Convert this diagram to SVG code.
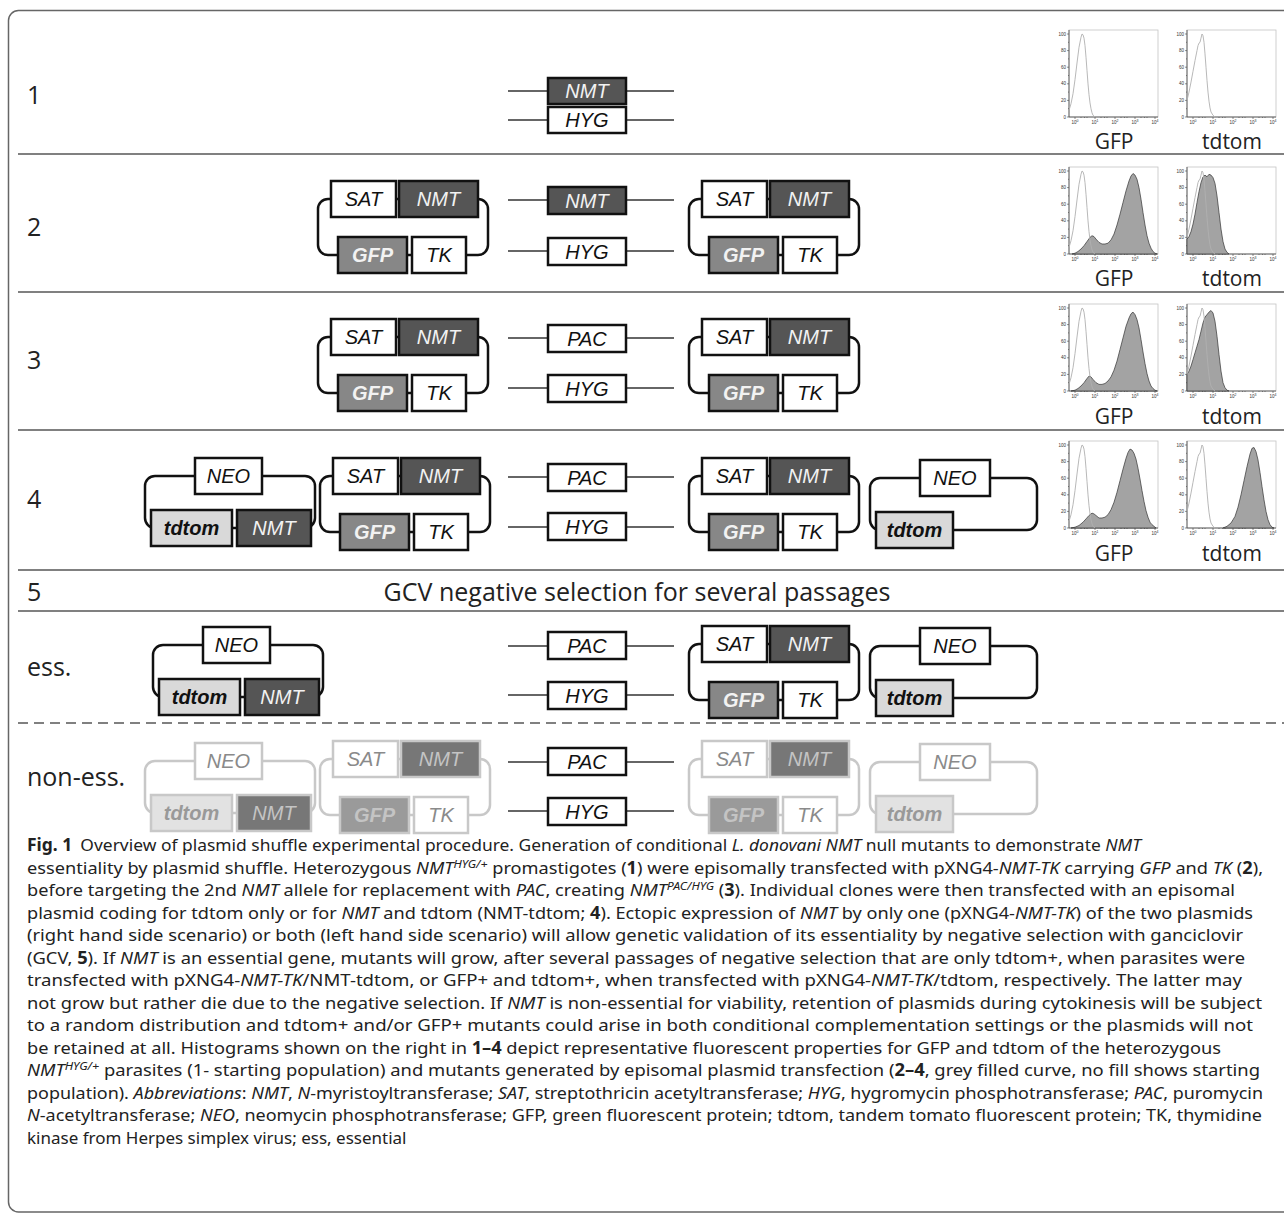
<svg xmlns="http://www.w3.org/2000/svg" width="1284" height="1219" viewBox="0 0 1284 1219">
<style>
.frame{fill:none;stroke:#666;stroke-width:1.5}
.sep{stroke:#808080;stroke-width:2}
.dash{stroke:#808080;stroke-width:2;stroke-dasharray:10 6}
.box{stroke:#111;stroke-width:2.5}
.w{fill:#fff}.dk{fill:#555}.gf{fill:#878787}.td{fill:#d9d9d9}
.loop{fill:none;stroke:#111;stroke-width:2.5}
.chrom{stroke:#333;stroke-width:1.5}
.lbl{font-family:'Liberation Sans',Arial,sans-serif;font-style:italic;font-size:20px;text-anchor:middle;fill:#111}
.lw{fill:#f2f2f2}.b{font-weight:bold}
.f .box{stroke:#c8c8c8}.f .loop{stroke:#c8c8c8}
.f .dk{fill:#777}.f .gf{fill:#9a9a9a}.f .td{fill:#e2e2e2}
.f .lbl{fill:#8a8a8a}.f .lw{fill:#c4c4c4}.f .tdt{fill:#999}
.row{font-family:'Open Sans','Liberation Sans',sans-serif;font-size:25px;fill:#222}
.hl{font-family:'Open Sans','Liberation Sans',sans-serif;font-size:21px;fill:#222;text-anchor:middle}
.pf{fill:#fff;stroke:#c4c4c4;stroke-width:0.8}
.ax{fill:none;stroke:#444;stroke-width:0.8}
.fc{fill:#a3a3a3;stroke:#333;stroke-width:0.7}
.uc{fill:none;stroke:#b0b0b0;stroke-width:0.9}
.yt{font-family:'Liberation Sans',sans-serif;font-size:4.5px;text-anchor:end;fill:#333}
.xt{font-family:'Liberation Sans',sans-serif;font-size:4.5px;text-anchor:middle;fill:#333}
.cap{font-family:'Noto Sans','Liberation Sans',sans-serif;font-size:17px;fill:#222}
.i{font-style:italic}.bd{font-weight:bold}
</style>
<defs>
<path id="tk" d="M-8,0H-6M-8,-16.6H-6M-8,-33.2H-6M-8,-49.8H-6M-8,-66.4H-6M-8,-83H-6M-7,-8.3H-6M-7,-24.9H-6M-7,-41.5H-6M-7,-58.1H-6M-7,-74.7H-6M0,0V2M20,0V2M40,0V2M60,0V2M80,0V2M6,0V1M9.5,0V1M12,0V1M26,0V1M29.5,0V1M32,0V1M46,0V1M49.5,0V1M52,0V1M66,0V1M69.5,0V1M72,0V1" stroke="#444" stroke-width="0.6" fill="none"/>
</defs>
<path class="frame" d="M1292,10.5H18.5A10,10 0 0 0 8.5,20.5V1202A10,10 0 0 0 18.5,1212H1292"/>
<g id="separators">
<line class="sep" x1="18" y1="154" x2="1284" y2="154"/>
<line class="sep" x1="18" y1="292" x2="1284" y2="292"/>
<line class="sep" x1="18" y1="430" x2="1284" y2="430"/>
<line class="sep" x1="18" y1="570" x2="1284" y2="570"/>
<line class="sep" x1="18" y1="611" x2="1284" y2="611"/>
<line class="dash" x1="18" y1="723" x2="1284" y2="723"/>
</g>
<g id="row-labels">
<text class="row" x="27" y="104">1</text>
<text class="row" x="27" y="236">2</text>
<text class="row" x="27" y="369">3</text>
<text class="row" x="27" y="508">4</text>
<text class="row" x="27" y="601">5</text>
<text class="row" x="637" y="601" text-anchor="middle">GCV negative selection for several passages</text>
<text class="row" x="27" y="676">ess.</text>
<text class="row" x="27" y="786">non-ess.</text>
</g>
<g id="connectors">
<line class="chrom" x1="508" y1="91" x2="674" y2="91"/>
<line class="chrom" x1="508" y1="120" x2="674" y2="120"/>
<line class="chrom" x1="508" y1="200" x2="674" y2="200"/>
<line class="chrom" x1="508" y1="251" x2="674" y2="251"/>
<line class="chrom" x1="508" y1="338" x2="674" y2="338"/>
<line class="chrom" x1="508" y1="388" x2="674" y2="388"/>
<line class="chrom" x1="508" y1="477" x2="674" y2="477"/>
<line class="chrom" x1="508" y1="527" x2="674" y2="527"/>
<line class="chrom" x1="508" y1="646" x2="674" y2="646"/>
<line class="chrom" x1="508" y1="695" x2="674" y2="695"/>
<line class="chrom" x1="508" y1="762" x2="674" y2="762"/>
<line class="chrom" x1="508" y1="811" x2="674" y2="811"/>
</g>
<!-- Row 1 -->
<g id="r1-nmt"><rect class="box dk" x="548" y="78" width="78" height="26"/><text class="lbl lw" x="587" y="98">NMT</text></g>
<g id="r1-hyg"><rect class="box w" x="548" y="107" width="78" height="26"/><text class="lbl" x="587" y="127">HYG</text></g>
<!-- Row 2 -->
<g id="r2-plasA-left" transform="translate(318,181)">
<rect class="loop" x="0" y="18" width="170" height="56" rx="10"/>
<rect class="box w" x="13" y="0" width="65" height="36"/><rect class="box dk" x="81" y="0" width="79" height="36"/>
<rect class="box gf" x="20" y="56" width="69" height="36"/><rect class="box w" x="94" y="56" width="54" height="36"/>
<text class="lbl" x="45.5" y="25">SAT</text><text class="lbl lw" x="120.5" y="25">NMT</text>
<text class="lbl lw b" x="54.5" y="81">GFP</text><text class="lbl" x="121" y="81">TK</text>
</g>
<g id="r2-nmt"><rect class="box dk" x="548" y="187" width="78" height="27"/><text class="lbl lw" x="587" y="208">NMT</text></g>
<g id="r2-hyg"><rect class="box w" x="548" y="238" width="78" height="27"/><text class="lbl" x="587" y="259">HYG</text></g>
<g id="r2-plasA-right" transform="translate(689,181)">
<rect class="loop" x="0" y="18" width="170" height="56" rx="10"/>
<rect class="box w" x="13" y="0" width="65" height="36"/><rect class="box dk" x="81" y="0" width="79" height="36"/>
<rect class="box gf" x="20" y="56" width="69" height="36"/><rect class="box w" x="94" y="56" width="54" height="36"/>
<text class="lbl" x="45.5" y="25">SAT</text><text class="lbl lw" x="120.5" y="25">NMT</text>
<text class="lbl lw b" x="54.5" y="81">GFP</text><text class="lbl" x="121" y="81">TK</text>
</g>
<!-- Row 3 -->
<g id="r3-plasA-left" transform="translate(318,319)">
<rect class="loop" x="0" y="18" width="170" height="56" rx="10"/>
<rect class="box w" x="13" y="0" width="65" height="36"/><rect class="box dk" x="81" y="0" width="79" height="36"/>
<rect class="box gf" x="20" y="56" width="69" height="36"/><rect class="box w" x="94" y="56" width="54" height="36"/>
<text class="lbl" x="45.5" y="25">SAT</text><text class="lbl lw" x="120.5" y="25">NMT</text>
<text class="lbl lw b" x="54.5" y="81">GFP</text><text class="lbl" x="121" y="81">TK</text>
</g>
<g id="r3-pac"><rect class="box w" x="548" y="325" width="78" height="27"/><text class="lbl" x="587" y="346">PAC</text></g>
<g id="r3-hyg"><rect class="box w" x="548" y="375" width="78" height="27"/><text class="lbl" x="587" y="396">HYG</text></g>
<g id="r3-plasA-right" transform="translate(689,319)">
<rect class="loop" x="0" y="18" width="170" height="56" rx="10"/>
<rect class="box w" x="13" y="0" width="65" height="36"/><rect class="box dk" x="81" y="0" width="79" height="36"/>
<rect class="box gf" x="20" y="56" width="69" height="36"/><rect class="box w" x="94" y="56" width="54" height="36"/>
<text class="lbl" x="45.5" y="25">SAT</text><text class="lbl lw" x="120.5" y="25">NMT</text>
<text class="lbl lw b" x="54.5" y="81">GFP</text><text class="lbl" x="121" y="81">TK</text>
</g>
<!-- Row 4 -->
<g id="r4-plasB-left" transform="translate(145,458)">
<rect class="loop" x="0" y="18" width="170" height="52" rx="10"/>
<rect class="box w" x="50" y="0" width="67" height="36"/>
<rect class="box td" x="6" y="52" width="81" height="36"/><rect class="box dk" x="92" y="52" width="74" height="36"/>
<text class="lbl" x="83.5" y="25">NEO</text><text class="lbl b tdt" x="46.5" y="77">tdtom</text><text class="lbl lw" x="129" y="77">NMT</text>
</g>
<g id="r4-plasA-left" transform="translate(320,458)">
<rect class="loop" x="0" y="18" width="170" height="56" rx="10"/>
<rect class="box w" x="13" y="0" width="65" height="36"/><rect class="box dk" x="81" y="0" width="79" height="36"/>
<rect class="box gf" x="20" y="56" width="69" height="36"/><rect class="box w" x="94" y="56" width="54" height="36"/>
<text class="lbl" x="45.5" y="25">SAT</text><text class="lbl lw" x="120.5" y="25">NMT</text>
<text class="lbl lw b" x="54.5" y="81">GFP</text><text class="lbl" x="121" y="81">TK</text>
</g>
<g id="r4-pac"><rect class="box w" x="548" y="464" width="78" height="27"/><text class="lbl" x="587" y="485">PAC</text></g>
<g id="r4-hyg"><rect class="box w" x="548" y="513" width="78" height="27"/><text class="lbl" x="587" y="534">HYG</text></g>
<g id="r4-plasA-right" transform="translate(689,458)">
<rect class="loop" x="0" y="18" width="170" height="56" rx="10"/>
<rect class="box w" x="13" y="0" width="65" height="36"/><rect class="box dk" x="81" y="0" width="79" height="36"/>
<rect class="box gf" x="20" y="56" width="69" height="36"/><rect class="box w" x="94" y="56" width="54" height="36"/>
<text class="lbl" x="45.5" y="25">SAT</text><text class="lbl lw" x="120.5" y="25">NMT</text>
<text class="lbl lw b" x="54.5" y="81">GFP</text><text class="lbl" x="121" y="81">TK</text>
</g>
<g id="r4-plasC-right" transform="translate(870,460)">
<rect class="loop" x="0" y="18" width="167" height="52" rx="10"/>
<rect class="box w" x="50" y="0" width="70" height="36"/>
<rect class="box td" x="6" y="52" width="77" height="36"/>
<text class="lbl" x="85" y="25">NEO</text><text class="lbl b tdt" x="44.5" y="77">tdtom</text>
</g>
<!-- ess row -->
<g id="ess-plasB" transform="translate(153,627)">
<rect class="loop" x="0" y="18" width="170" height="52" rx="10"/>
<rect class="box w" x="50" y="0" width="67" height="36"/>
<rect class="box td" x="6" y="52" width="81" height="36"/><rect class="box dk" x="92" y="52" width="74" height="36"/>
<text class="lbl" x="83.5" y="25">NEO</text><text class="lbl b tdt" x="46.5" y="77">tdtom</text><text class="lbl lw" x="129" y="77">NMT</text>
</g>
<g id="ess-pac"><rect class="box w" x="548" y="632" width="78" height="27"/><text class="lbl" x="587" y="653">PAC</text></g>
<g id="ess-hyg"><rect class="box w" x="548" y="682" width="78" height="27"/><text class="lbl" x="587" y="703">HYG</text></g>
<g id="ess-plasA" transform="translate(689,626)">
<rect class="loop" x="0" y="18" width="170" height="56" rx="10"/>
<rect class="box w" x="13" y="0" width="65" height="36"/><rect class="box dk" x="81" y="0" width="79" height="36"/>
<rect class="box gf" x="20" y="56" width="69" height="36"/><rect class="box w" x="94" y="56" width="54" height="36"/>
<text class="lbl" x="45.5" y="25">SAT</text><text class="lbl lw" x="120.5" y="25">NMT</text>
<text class="lbl lw b" x="54.5" y="81">GFP</text><text class="lbl" x="121" y="81">TK</text>
</g>
<g id="ess-plasC" transform="translate(870,628)">
<rect class="loop" x="0" y="18" width="167" height="52" rx="10"/>
<rect class="box w" x="50" y="0" width="70" height="36"/>
<rect class="box td" x="6" y="52" width="77" height="36"/>
<text class="lbl" x="85" y="25">NEO</text><text class="lbl b tdt" x="44.5" y="77">tdtom</text>
</g>
<!-- non-ess row -->
<g id="ness-plasB" class="f" transform="translate(145,743)">
<rect class="loop" x="0" y="18" width="170" height="52" rx="10"/>
<rect class="box w" x="50" y="0" width="67" height="36"/>
<rect class="box td" x="6" y="52" width="81" height="36"/><rect class="box dk" x="92" y="52" width="74" height="36"/>
<text class="lbl" x="83.5" y="25">NEO</text><text class="lbl b tdt" x="46.5" y="77">tdtom</text><text class="lbl lw" x="129" y="77">NMT</text>
</g>
<g id="ness-plasA-left" class="f" transform="translate(320,741)">
<rect class="loop" x="0" y="18" width="170" height="56" rx="10"/>
<rect class="box w" x="13" y="0" width="65" height="36"/><rect class="box dk" x="81" y="0" width="79" height="36"/>
<rect class="box gf" x="20" y="56" width="69" height="36"/><rect class="box w" x="94" y="56" width="54" height="36"/>
<text class="lbl" x="45.5" y="25">SAT</text><text class="lbl lw" x="120.5" y="25">NMT</text>
<text class="lbl lw b" x="54.5" y="81">GFP</text><text class="lbl" x="121" y="81">TK</text>
</g>
<g id="ness-pac"><rect class="box w" x="548" y="748" width="78" height="27"/><text class="lbl" x="587" y="769">PAC</text></g>
<g id="ness-hyg"><rect class="box w" x="548" y="798" width="78" height="27"/><text class="lbl" x="587" y="819">HYG</text></g>
<g id="ness-plasA-right" class="f" transform="translate(689,741)">
<rect class="loop" x="0" y="18" width="170" height="56" rx="10"/>
<rect class="box w" x="13" y="0" width="65" height="36"/><rect class="box dk" x="81" y="0" width="79" height="36"/>
<rect class="box gf" x="20" y="56" width="69" height="36"/><rect class="box w" x="94" y="56" width="54" height="36"/>
<text class="lbl" x="45.5" y="25">SAT</text><text class="lbl lw" x="120.5" y="25">NMT</text>
<text class="lbl lw b" x="54.5" y="81">GFP</text><text class="lbl" x="121" y="81">TK</text>
</g>
<g id="ness-plasC" class="f" transform="translate(870,744)">
<rect class="loop" x="0" y="18" width="167" height="52" rx="10"/>
<rect class="box w" x="50" y="0" width="70" height="36"/>
<rect class="box td" x="6" y="52" width="77" height="36"/>
<text class="lbl" x="85" y="25">NEO</text><text class="lbl b tdt" x="44.5" y="77">tdtom</text>
</g>
<!-- Histograms -->
<g id="hist-r1-gfp" transform="translate(1075,117)">
<rect class="pf" x="-6" y="-87" width="89" height="87"/><path class="ax" d="M-6,-87V0H83"/><use href="#tk"/>
<text class="yt" x="-9" y="1.5">0</text><text class="yt" x="-9" y="-15">20</text><text class="yt" x="-9" y="-31.7">40</text><text class="yt" x="-9" y="-48.3">60</text><text class="yt" x="-9" y="-65">80</text><text class="yt" x="-9" y="-81.5">100</text>
<text class="xt" x="0" y="7.2">10<tspan dy="-2" font-size="3.5">0</tspan></text><text class="xt" x="20" y="7.2">10<tspan dy="-2" font-size="3.5">1</tspan></text><text class="xt" x="40" y="7.2">10<tspan dy="-2" font-size="3.5">2</tspan></text><text class="xt" x="60" y="7.2">10<tspan dy="-2" font-size="3.5">3</tspan></text><text class="xt" x="80" y="7.2">10<tspan dy="-2" font-size="3.5">4</tspan></text>
<path class="uc" d="M-6,-6.6 L-4,-13.3 -2,-23.2 0,-37.4 2,-54 4,-69.7 6,-79.7 7,-83 8,-82.2 9,-78.9 10,-71.4 11,-59.8 12,-46.5 13,-33.2 14,-22.4 15,-14.1 16,-8.3 17,-4.2 18,-1.7 20,0"/>
</g>
<g id="hist-r1-tdtom" transform="translate(1193,117)">
<rect class="pf" x="-6" y="-87" width="89" height="87"/><path class="ax" d="M-6,-87V0H83"/><use href="#tk"/>
<text class="yt" x="-9" y="1.5">0</text><text class="yt" x="-9" y="-15">20</text><text class="yt" x="-9" y="-31.7">40</text><text class="yt" x="-9" y="-48.3">60</text><text class="yt" x="-9" y="-65">80</text><text class="yt" x="-9" y="-81.5">100</text>
<text class="xt" x="0" y="7.2">10<tspan dy="-2" font-size="3.5">0</tspan></text><text class="xt" x="20" y="7.2">10<tspan dy="-2" font-size="3.5">1</tspan></text><text class="xt" x="40" y="7.2">10<tspan dy="-2" font-size="3.5">2</tspan></text><text class="xt" x="60" y="7.2">10<tspan dy="-2" font-size="3.5">3</tspan></text><text class="xt" x="80" y="7.2">10<tspan dy="-2" font-size="3.5">4</tspan></text>
<path class="uc" d="M-6,-16.6 L-4,-24.9 -2,-34.9 0,-45.7 2,-56.4 4,-66.4 5,-71.4 6,-73.9 7,-74.7 8,-78.9 9,-83 10,-81.3 11,-74.7 12,-63.1 13,-49.8 14,-36.5 15,-24.9 16,-15.8 17,-9.1 18,-5 20,-1.7 22,0"/>
</g>
<g id="hist-r2-gfp" transform="translate(1075,254)">
<rect class="pf" x="-6" y="-87" width="89" height="87"/><path class="ax" d="M-6,-87V0H83"/><use href="#tk"/>
<text class="yt" x="-9" y="1.5">0</text><text class="yt" x="-9" y="-15">20</text><text class="yt" x="-9" y="-31.7">40</text><text class="yt" x="-9" y="-48.3">60</text><text class="yt" x="-9" y="-65">80</text><text class="yt" x="-9" y="-81.5">100</text>
<text class="xt" x="0" y="7.2">10<tspan dy="-2" font-size="3.5">0</tspan></text><text class="xt" x="20" y="7.2">10<tspan dy="-2" font-size="3.5">1</tspan></text><text class="xt" x="40" y="7.2">10<tspan dy="-2" font-size="3.5">2</tspan></text><text class="xt" x="60" y="7.2">10<tspan dy="-2" font-size="3.5">3</tspan></text><text class="xt" x="80" y="7.2">10<tspan dy="-2" font-size="3.5">4</tspan></text>
<path class="fc" d="M-3,0 L0,-0.8 3,-2.5 6,-5 9,-8.3 12,-12.5 15,-16.6 17,-18.3 19,-17.4 21,-14.9 24,-11.6 27,-10 30,-10 33,-10.8 36,-14.1 39,-19.9 42,-29 45,-39.8 48,-51.5 51,-63.1 54,-73 56,-78 58,-80.5 60,-78.9 62,-74.7 64,-66.4 66,-54.8 68,-41.5 70,-29 72,-18.3 74,-10.8 76,-5.8 78,-2.5 80,-0.8 82,0Z"/>
<path class="uc" d="M-6,-6.6 L-4,-13.3 -2,-23.2 0,-37.4 2,-54 4,-69.7 6,-79.7 7,-83 8,-82.2 9,-78.9 10,-71.4 11,-59.8 12,-46.5 13,-33.2 14,-22.4 15,-14.1 16,-8.3 17,-4.2 18,-1.7 20,0"/>
</g>
<g id="hist-r2-tdtom" transform="translate(1193,254)">
<rect class="pf" x="-6" y="-87" width="89" height="87"/><path class="ax" d="M-6,-87V0H83"/><use href="#tk"/>
<text class="yt" x="-9" y="1.5">0</text><text class="yt" x="-9" y="-15">20</text><text class="yt" x="-9" y="-31.7">40</text><text class="yt" x="-9" y="-48.3">60</text><text class="yt" x="-9" y="-65">80</text><text class="yt" x="-9" y="-81.5">100</text>
<text class="xt" x="0" y="7.2">10<tspan dy="-2" font-size="3.5">0</tspan></text><text class="xt" x="20" y="7.2">10<tspan dy="-2" font-size="3.5">1</tspan></text><text class="xt" x="40" y="7.2">10<tspan dy="-2" font-size="3.5">2</tspan></text><text class="xt" x="60" y="7.2">10<tspan dy="-2" font-size="3.5">3</tspan></text><text class="xt" x="80" y="7.2">10<tspan dy="-2" font-size="3.5">4</tspan></text>
<path class="fc" d="M-6,0 L-6,-14.9 -4,-17.4 -2,-22.4 0,-29.9 2,-39.8 4,-51.5 6,-62.3 8,-71.4 10,-77.2 12,-78.9 14,-77.2 16,-79.7 18,-78.9 20,-76.4 22,-70.6 24,-58.1 26,-41.5 28,-24.9 30,-12.5 32,-5 34,-1.7 36,0Z"/>
<path class="uc" d="M-6,-16.6 L-4,-24.9 -2,-34.9 0,-45.7 2,-56.4 4,-66.4 5,-71.4 6,-73.9 7,-74.7 8,-78.9 9,-83 10,-81.3 11,-74.7 12,-63.1 13,-49.8 14,-36.5 15,-24.9 16,-15.8 17,-9.1 18,-5 20,-1.7 22,0"/>
</g>
<g id="hist-r3-gfp" transform="translate(1075,391)">
<rect class="pf" x="-6" y="-87" width="89" height="87"/><path class="ax" d="M-6,-87V0H83"/><use href="#tk"/>
<text class="yt" x="-9" y="1.5">0</text><text class="yt" x="-9" y="-15">20</text><text class="yt" x="-9" y="-31.7">40</text><text class="yt" x="-9" y="-48.3">60</text><text class="yt" x="-9" y="-65">80</text><text class="yt" x="-9" y="-81.5">100</text>
<text class="xt" x="0" y="7.2">10<tspan dy="-2" font-size="3.5">0</tspan></text><text class="xt" x="20" y="7.2">10<tspan dy="-2" font-size="3.5">1</tspan></text><text class="xt" x="40" y="7.2">10<tspan dy="-2" font-size="3.5">2</tspan></text><text class="xt" x="60" y="7.2">10<tspan dy="-2" font-size="3.5">3</tspan></text><text class="xt" x="80" y="7.2">10<tspan dy="-2" font-size="3.5">4</tspan></text>
<path class="fc" d="M-4,0 L0,-0.8 3,-2.5 6,-5 9,-8.3 12,-12.5 14,-14.9 16,-14.1 18,-11.6 21,-8.3 24,-6.6 27,-6.6 30,-7.5 33,-10 36,-14.1 39,-20.8 42,-29.9 45,-41.5 48,-53.1 51,-64.7 54,-73 56,-77.2 58,-78.9 60,-76.4 62,-71.4 64,-63.1 66,-51.5 68,-39 70,-27.4 72,-17.4 74,-10 76,-5 78,-2.5 80,-0.8 82,0Z"/>
<path class="uc" d="M-6,-6.6 L-4,-13.3 -2,-23.2 0,-37.4 2,-54 4,-69.7 6,-79.7 7,-83 8,-82.2 9,-78.9 10,-71.4 11,-59.8 12,-46.5 13,-33.2 14,-22.4 15,-14.1 16,-8.3 17,-4.2 18,-1.7 20,0"/>
</g>
<g id="hist-r3-tdtom" transform="translate(1193,391)">
<rect class="pf" x="-6" y="-87" width="89" height="87"/><path class="ax" d="M-6,-87V0H83"/><use href="#tk"/>
<text class="yt" x="-9" y="1.5">0</text><text class="yt" x="-9" y="-15">20</text><text class="yt" x="-9" y="-31.7">40</text><text class="yt" x="-9" y="-48.3">60</text><text class="yt" x="-9" y="-65">80</text><text class="yt" x="-9" y="-81.5">100</text>
<text class="xt" x="0" y="7.2">10<tspan dy="-2" font-size="3.5">0</tspan></text><text class="xt" x="20" y="7.2">10<tspan dy="-2" font-size="3.5">1</tspan></text><text class="xt" x="40" y="7.2">10<tspan dy="-2" font-size="3.5">2</tspan></text><text class="xt" x="60" y="7.2">10<tspan dy="-2" font-size="3.5">3</tspan></text><text class="xt" x="80" y="7.2">10<tspan dy="-2" font-size="3.5">4</tspan></text>
<path class="fc" d="M-6,0 L-6,-16.6 -4,-19.9 -2,-24.9 0,-31.5 2,-38.2 4,-44.8 6,-51.5 8,-59.8 10,-68.1 12,-73.9 14,-76.4 16,-78.9 18,-80.5 20,-78 22,-69.7 24,-54.8 26,-36.5 28,-19.9 30,-8.3 32,-3.3 34,-0.8 36,0Z"/>
<path class="uc" d="M-6,-16.6 L-4,-24.9 -2,-34.9 0,-45.7 2,-56.4 4,-66.4 5,-71.4 6,-73.9 7,-74.7 8,-78.9 9,-83 10,-81.3 11,-74.7 12,-63.1 13,-49.8 14,-36.5 15,-24.9 16,-15.8 17,-9.1 18,-5 20,-1.7 22,0"/>
</g>
<g id="hist-r4-gfp" transform="translate(1075,528)">
<rect class="pf" x="-6" y="-87" width="89" height="87"/><path class="ax" d="M-6,-87V0H83"/><use href="#tk"/>
<text class="yt" x="-9" y="1.5">0</text><text class="yt" x="-9" y="-15">20</text><text class="yt" x="-9" y="-31.7">40</text><text class="yt" x="-9" y="-48.3">60</text><text class="yt" x="-9" y="-65">80</text><text class="yt" x="-9" y="-81.5">100</text>
<text class="xt" x="0" y="7.2">10<tspan dy="-2" font-size="3.5">0</tspan></text><text class="xt" x="20" y="7.2">10<tspan dy="-2" font-size="3.5">1</tspan></text><text class="xt" x="40" y="7.2">10<tspan dy="-2" font-size="3.5">2</tspan></text><text class="xt" x="60" y="7.2">10<tspan dy="-2" font-size="3.5">3</tspan></text><text class="xt" x="80" y="7.2">10<tspan dy="-2" font-size="3.5">4</tspan></text>
<path class="fc" d="M-4,0 L0,-0.8 4,-2.5 8,-5.8 11,-9.1 14,-12.5 17,-14.9 19,-14.1 21,-12.5 24,-10 27,-10 30,-10.8 33,-13.3 36,-18.3 39,-25.7 42,-35.7 45,-47.3 48,-58.9 51,-69.7 53,-75.5 55,-78.9 57,-78 59,-74.7 61,-68.9 63,-59.8 65,-49 67,-37.4 69,-26.6 71,-17.4 73,-10.8 75,-5.8 77,-3.3 79,-1.7 81,0Z"/>
<path class="uc" d="M-6,-6.6 L-4,-13.3 -2,-23.2 0,-37.4 2,-54 4,-69.7 6,-79.7 7,-83 8,-82.2 9,-78.9 10,-71.4 11,-59.8 12,-46.5 13,-33.2 14,-22.4 15,-14.1 16,-8.3 17,-4.2 18,-1.7 20,0"/>
</g>
<g id="hist-r4-tdtom" transform="translate(1193,528)">
<rect class="pf" x="-6" y="-87" width="89" height="87"/><path class="ax" d="M-6,-87V0H83"/><use href="#tk"/>
<text class="yt" x="-9" y="1.5">0</text><text class="yt" x="-9" y="-15">20</text><text class="yt" x="-9" y="-31.7">40</text><text class="yt" x="-9" y="-48.3">60</text><text class="yt" x="-9" y="-65">80</text><text class="yt" x="-9" y="-81.5">100</text>
<text class="xt" x="0" y="7.2">10<tspan dy="-2" font-size="3.5">0</tspan></text><text class="xt" x="20" y="7.2">10<tspan dy="-2" font-size="3.5">1</tspan></text><text class="xt" x="40" y="7.2">10<tspan dy="-2" font-size="3.5">2</tspan></text><text class="xt" x="60" y="7.2">10<tspan dy="-2" font-size="3.5">3</tspan></text><text class="xt" x="80" y="7.2">10<tspan dy="-2" font-size="3.5">4</tspan></text>
<path class="fc" d="M30,0 L34,-1.7 38,-5 42,-11.6 45,-20.8 48,-33.2 51,-47.3 54,-61.4 57,-73.9 59,-79.7 61,-80.5 63,-76.4 65,-68.1 67,-55.6 69,-41.5 71,-28.2 73,-16.6 75,-8.3 77,-3.3 79,-0.8 81,0Z"/>
<path class="uc" d="M-6,-16.6 L-4,-24.9 -2,-34.9 0,-45.7 2,-56.4 4,-66.4 5,-71.4 6,-73.9 7,-74.7 8,-78.9 9,-83 10,-81.3 11,-74.7 12,-63.1 13,-49.8 14,-36.5 15,-24.9 16,-15.8 17,-9.1 18,-5 20,-1.7 22,0"/>
</g>
<g id="hist-labels">
<text class="hl" x="1114" y="149">GFP</text><text class="hl" x="1232" y="149">tdtom</text>
<text class="hl" x="1114" y="286">GFP</text><text class="hl" x="1232" y="286">tdtom</text>
<text class="hl" x="1114" y="424">GFP</text><text class="hl" x="1232" y="424">tdtom</text>
<text class="hl" x="1114" y="561">GFP</text><text class="hl" x="1232" y="561">tdtom</text>
</g>
<g id="caption" class="cap">
<text x="27" y="851" textLength="1114" lengthAdjust="spacingAndGlyphs"><tspan class="bd">Fig. 1</tspan><tspan dx="8">Overview of plasmid shuffle experimental procedure. Generation of conditional </tspan><tspan class="i">L. donovani NMT</tspan> null mutants to demonstrate <tspan class="i">NMT</tspan></text>
<text x="27" y="873.5" textLength="1236" lengthAdjust="spacingAndGlyphs">essentiality by plasmid shuffle. Heterozygous <tspan class="i">NMT</tspan><tspan class="i" font-size="11.5" dy="-6">HYG/+</tspan><tspan dy="6"> promastigotes (</tspan><tspan class="bd">1</tspan>) were episomally transfected with pXNG4-<tspan class="i">NMT-TK</tspan> carrying <tspan class="i">GFP</tspan> and <tspan class="i">TK</tspan> (<tspan class="bd">2</tspan>),</text>
<text x="27" y="896" textLength="1208" lengthAdjust="spacingAndGlyphs">before targeting the 2nd <tspan class="i">NMT</tspan> allele for replacement with <tspan class="i">PAC</tspan>, creating <tspan class="i">NMT</tspan><tspan class="i" font-size="11.5" dy="-6">PAC/HYG</tspan><tspan dy="6"> (</tspan><tspan class="bd">3</tspan>). Individual clones were then transfected with an episomal</text>
<text x="27" y="918.5" textLength="1226" lengthAdjust="spacingAndGlyphs">plasmid coding for tdtom only or for <tspan class="i">NMT</tspan> and tdtom (NMT-tdtom; <tspan class="bd">4</tspan>). Ectopic expression of <tspan class="i">NMT</tspan> by only one (pXNG4-<tspan class="i">NMT-TK</tspan>) of the two plasmids</text>
<text x="27" y="941" textLength="1216" lengthAdjust="spacingAndGlyphs">(right hand side scenario) or both (left hand side scenario) will allow genetic validation of its essentiality by negative selection with ganciclovir</text>
<text x="27" y="963.5" textLength="1218" lengthAdjust="spacingAndGlyphs">(GCV, <tspan class="bd">5</tspan>). If <tspan class="i">NMT</tspan> is an essential gene, mutants will grow, after several passages of negative selection that are only tdtom+, when parasites were</text>
<text x="27" y="986" textLength="1215" lengthAdjust="spacingAndGlyphs">transfected with pXNG4-<tspan class="i">NMT-TK</tspan>/NMT-tdtom, or GFP+ and tdtom+, when transfected with pXNG4-<tspan class="i">NMT-TK</tspan>/tdtom, respectively. The latter may</text>
<text x="27" y="1008.5" textLength="1235" lengthAdjust="spacingAndGlyphs">not grow but rather die due to the negative selection. If <tspan class="i">NMT</tspan> is non-essential for viability, retention of plasmids during cytokinesis will be subject</text>
<text x="27" y="1031" textLength="1226" lengthAdjust="spacingAndGlyphs">to a random distribution and tdtom+ and/or GFP+ mutants could arise in both conditional complementation settings or the plasmids will not</text>
<text x="27" y="1053.5" textLength="1194" lengthAdjust="spacingAndGlyphs">be retained at all. Histograms shown on the right in <tspan class="bd">1–4</tspan> depict representative fluorescent properties for GFP and tdtom of the heterozygous</text>
<text x="27" y="1076" textLength="1233" lengthAdjust="spacingAndGlyphs"><tspan class="i">NMT</tspan><tspan class="i" font-size="11.5" dy="-6">HYG/+</tspan><tspan dy="6"> parasites (1- starting population) and mutants generated by episomal plasmid transfection (</tspan><tspan class="bd">2–4</tspan>, grey filled curve, no fill shows starting</text>
<text x="27" y="1098.5" textLength="1236" lengthAdjust="spacingAndGlyphs">population). <tspan class="i">Abbreviations</tspan>: <tspan class="i">NMT</tspan>, <tspan class="i">N</tspan>-myristoyltransferase; <tspan class="i">SAT</tspan>, streptothricin acetyltransferase; <tspan class="i">HYG</tspan>, hygromycin phosphotransferase; <tspan class="i">PAC</tspan>, puromycin</text>
<text x="27" y="1121" textLength="1235" lengthAdjust="spacingAndGlyphs"><tspan class="i">N</tspan>-acetyltransferase; <tspan class="i">NEO</tspan>, neomycin phosphotransferase; GFP, green fluorescent protein; tdtom, tandem tomato fluorescent protein; TK, thymidine</text>
<text x="27" y="1143.5">kinase from Herpes simplex virus; ess, essential</text>
</g>
</svg>
